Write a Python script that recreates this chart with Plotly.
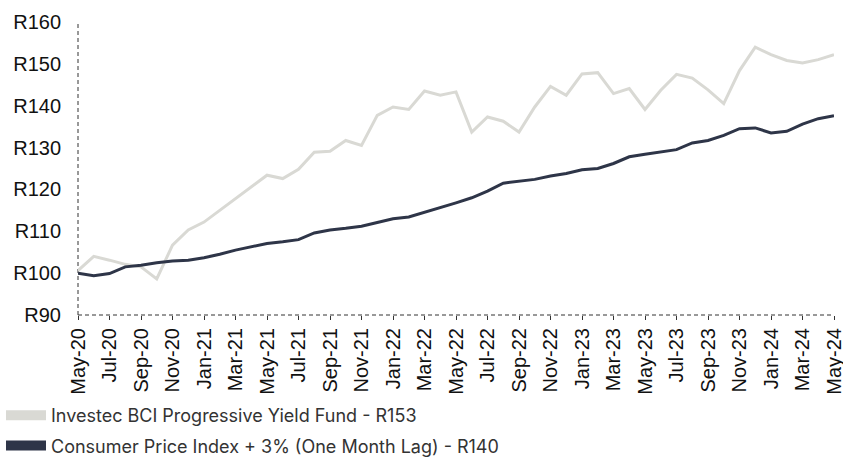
import plotly.graph_objects as go

months = [
    "May-20", "Jun-20", "Jul-20", "Aug-20", "Sep-20", "Oct-20", "Nov-20", "Dec-20",
    "Jan-21", "Feb-21", "Mar-21", "Apr-21", "May-21", "Jun-21", "Jul-21", "Aug-21",
    "Sep-21", "Oct-21", "Nov-21", "Dec-21", "Jan-22", "Feb-22", "Mar-22", "Apr-22",
    "May-22", "Jun-22", "Jul-22", "Aug-22", "Sep-22", "Oct-22", "Nov-22", "Dec-22",
    "Jan-23", "Feb-23", "Mar-23", "Apr-23", "May-23", "Jun-23", "Jul-23", "Aug-23",
    "Sep-23", "Oct-23", "Nov-23", "Dec-23", "Jan-24", "Feb-24", "Mar-24", "Apr-24",
    "May-24",
]

fund = [
    100.6, 104.0, 103.1, 102.1, 101.5, 98.6, 106.7, 110.3,
    112.2, 115.0, 117.9, 120.6, 123.4, 122.6, 124.8, 128.9,
    129.1, 131.7, 130.5, 137.7, 139.7, 139.1, 143.5, 142.5,
    143.3, 133.7, 137.3, 136.3, 133.7, 139.7, 144.6, 142.5,
    147.6, 147.9, 142.9, 144.1, 139.1, 143.7, 147.5, 146.6,
    143.8, 140.5, 148.4, 154.0, 152.2, 150.8, 150.2, 151.0,
    152.2,
]

cpi = [
    100.0, 99.4, 99.9, 101.5, 101.9, 102.5, 102.9, 103.1,
    103.7, 104.5, 105.5, 106.3, 107.1, 107.5, 108.0, 109.6,
    110.3, 110.7, 111.2, 112.1, 113.0, 113.4, 114.5, 115.7,
    116.8, 118.0, 119.6, 121.5, 122.0, 122.4, 123.2, 123.8,
    124.7, 125.0, 126.2, 127.8, 128.4, 129.0, 129.5, 131.1,
    131.7, 132.9, 134.5, 134.7, 133.5, 133.9, 135.6, 136.9,
    137.6,
]

series_names = [
    "Investec BCI Progressive Yield Fund - R153",
    "Consumer Price Index + 3% (One Month Lag) - R140",
]
colors = ["#d9d9d4", "#2e3548"]

y_ticks = [90, 100, 110, 120, 130, 140, 150, 160]
x_ticks = months[::2]

fig = go.Figure()

for name, vals, col in zip(series_names, [fund, cpi], colors):
    fig.add_trace(go.Scatter(
        x=months, y=vals, mode="lines", name=name,
        line=dict(color=col, width=3), showlegend=False,
        hoverinfo="x+y",
    ))

for i, (name, col) in enumerate(zip(series_names, colors)):
    fig.add_trace(go.Scatter(
        x=[None], y=[None], mode="lines", name=name,
        line=dict(color=col, width=12), legendgroup=f"g{i}",
        showlegend=True,
    ))

fig.update_layout(
    width=843, height=459,
    margin=dict(l=78, r=9, t=22, b=144, autoexpand=False),
    paper_bgcolor="white", plot_bgcolor="white",
    font=dict(family="Liberation Sans, Arial, sans-serif", color="#111111"),
    xaxis=dict(
        type="category", range=[0, len(months) - 1],
        tickmode="array", tickvals=x_ticks, ticktext=x_ticks,
        tickangle=-90, ticks="outside", ticklen=4, tickwidth=1, tickcolor="#333333",
        tickfont=dict(size=20, family="Liberation Sans, Arial, sans-serif", color="#111111"),
        showgrid=False, showline=False, zeroline=False, automargin=False,
    ),
    yaxis=dict(
        range=[90, 160], tickmode="array", tickvals=y_ticks,
        ticktext=[f"R{v}" for v in y_ticks],
        ticks="", showgrid=False, showline=False, zeroline=False, automargin=False,
        tickfont=dict(size=20, family="Liberation Sans, Arial, sans-serif", color="#111111"),
        ticklabelstandoff=16,
    ),
    showlegend=True,
    legend=dict(
        orientation="v", xref="container", yref="container",
        x=1 / 843, y=1 - 397 / 459, xanchor="left", yanchor="top",
        font=dict(family="Inter, sans-serif", size=18, color="#333333"),
        itemwidth=40, tracegroupgap=4, bgcolor="rgba(0,0,0,0)",
    ),
    shapes=[
        dict(type="line", xref="paper", yref="paper", x0=0, x1=0, y0=0, y1=1,
             line=dict(color="#333333", width=1, dash="4px,3px"), layer="below"),
        dict(type="line", xref="paper", yref="paper", x0=0, x1=1, y0=0, y1=0,
             line=dict(color="#333333", width=1, dash="4px,3px"), layer="below"),
    ],
)

fig.write_html(
    "out.html",
    config={"displayModeBar": False},
    post_script="document.body.style.margin='0';",
)
